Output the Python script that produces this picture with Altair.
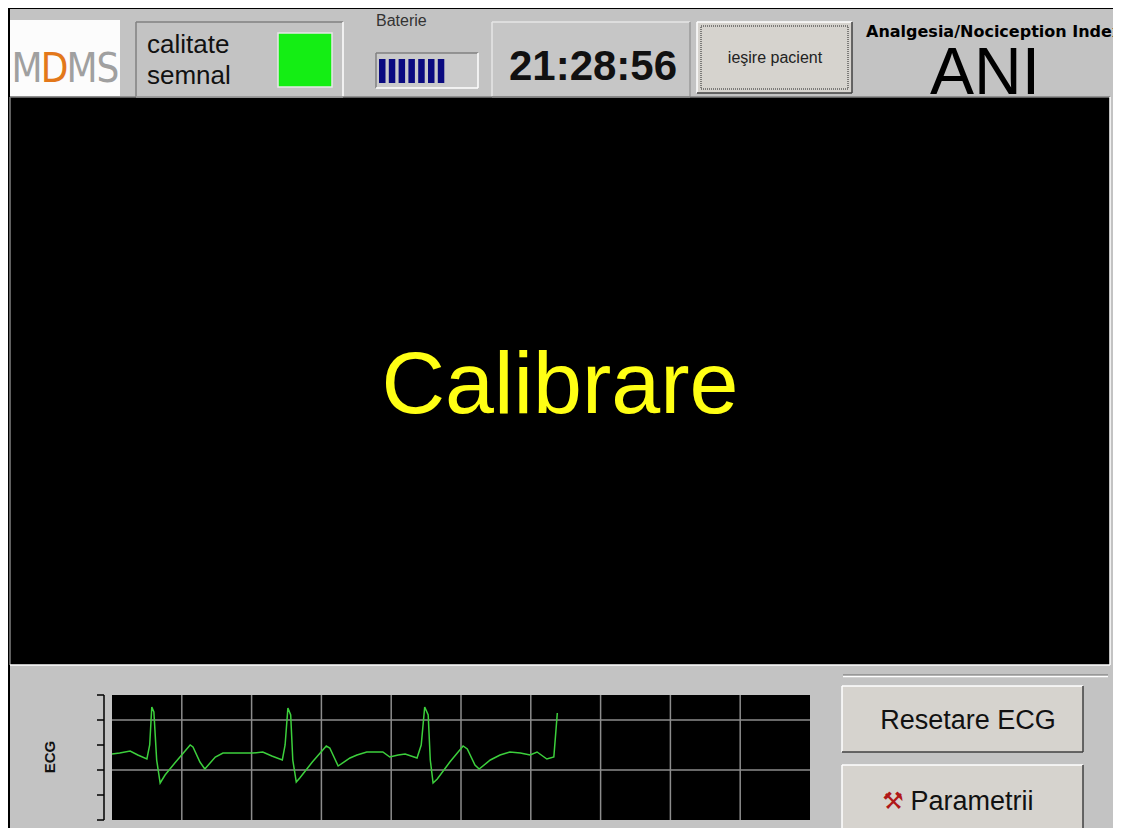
import altair as alt
import pandas as pd

# ---------------- data ----------------
# ECG trace: time in grid divisions (0..10), level in grid units (0..5)
ecg_time = [0.00, 0.11, 0.26, 0.37, 0.50, 0.54, 0.57, 0.60, 0.64, 0.69,
            0.76, 0.90, 1.12, 1.16, 1.26, 1.33, 1.48, 1.59, 2.02, 2.16,
            2.29, 2.44, 2.48, 2.52, 2.56, 2.59, 2.64, 2.69, 2.87, 3.07,
            3.12, 3.24, 3.41, 3.51, 3.65, 3.88, 3.98, 4.10, 4.20, 4.37,
            4.43, 4.48, 4.53, 4.56, 4.60, 4.66, 4.84, 5.03, 5.09, 5.20,
            5.26, 5.42, 5.56, 5.70, 5.85, 5.99, 6.09, 6.23, 6.33, 6.38]
ecg_level = [2.64, 2.68, 2.76, 2.60, 2.44, 3.00, 4.52, 4.32, 2.40, 1.48,
             1.80, 2.28, 3.00, 2.92, 2.32, 2.04, 2.52, 2.68, 2.68, 2.72,
             2.56, 2.40, 3.00, 4.48, 4.20, 2.40, 1.52, 1.68, 2.32, 2.96,
             2.88, 2.16, 2.48, 2.60, 2.72, 2.72, 2.52, 2.60, 2.64, 2.48,
             3.00, 4.52, 4.20, 2.40, 1.48, 1.64, 2.32, 2.96, 2.84, 2.20,
             2.04, 2.40, 2.60, 2.72, 2.68, 2.60, 2.72, 2.44, 2.52, 4.28]
assert len(ecg_time) == len(ecg_level)

ecg_time_domain = [0, 10]
ecg_level_domain = [0, 5]
ecg_grid_time = [1, 2, 3, 4, 5, 6, 7, 8, 9]
ecg_grid_level = [2, 4]
ecg_axis_ticks = [0, 1, 2, 3, 4, 5]

battery_bars = [1, 2, 3, 4, 5, 6, 7]

clock_text = "21:28:56"
status_text = "Calibrare"
logo_letters = ["M", "D", "M", "S"]

# ---------------- layout (screen pixels) ----------------
W, H = 1105, 820          # whole drawing (page margin 8 px)
OX, OY = 8, 8
PADL = 96                 # plot group starts where the ECG axis sits (screen x = 104)
GX = OX + PADL
UX = alt.Scale(domain=[GX, OX + W], nice=False, zero=False)
UY = alt.Scale(domain=[OY, OY + H], reverse=True, nice=False, zero=False)

BG = "#c3c3c3"
FACE = "#d6d3ce"

panels = pd.DataFrame([
    dict(x=9, x2=1140, y=8, y2=860, fill=BG, stroke="#000000", sw=2),
    dict(x=10, x2=120, y=20, y2=96, fill="#fcfcfc", stroke="#fcfcfc", sw=0),
    dict(x=136, x2=343, y=22, y2=97, fill=BG, stroke=BG, sw=0),
    dict(x=376, x2=478, y=53, y2=88, fill="#cacaca", stroke="#cacaca", sw=0),
    dict(x=492, x2=690, y=22, y2=97, fill="#c6c6c6", stroke="#c6c6c6", sw=0),
    dict(x=697, x2=852, y=22, y2=93, fill=FACE, stroke=FACE, sw=0),
    dict(x=10, x2=1110, y=97, y2=665, fill="#000000", stroke="#000000", sw=0),
    dict(x=842, x2=1083, y=686, y2=752, fill=FACE, stroke=FACE, sw=0),
    dict(x=842, x2=1083, y=765, y2=830, fill=FACE, stroke=FACE, sw=0),
    dict(x=278, x2=332, y=33, y2=87, fill="#14ee14", stroke="#e8e8e8", sw=1.5),
])

boxes3d = [
    (136, 22, 343, 97, "sunken"),
    (376, 53, 478, 88, "sunken"),
    (492, 22, 690, 97, "sunkenlight"),
    (697, 22, 852, 93, "raised"),
    (10, 97, 1110, 665, "sunken"),
    (842, 686, 1083, 752, "raised"),
    (842, 765, 1083, 830, "raised"),
]
styles = {
    "raised": ("#ffffff", "#404040"),
    "sunken": ("#808080", "#ffffff"),
    "sunkenlight": ("#e6e6e6", "#9a9a9a"),
}
edge_rows = []
for x0, y0, x1, y1, st in boxes3d:
    tl, br = styles[st]
    edge_rows += [
        dict(x=x0, x2=x1, y=y0, y2=y0, c=tl),
        dict(x=x0, x2=x0, y=y0, y2=y1, c=tl),
        dict(x=x0, x2=x1, y=y1, y2=y1, c=br),
        dict(x=x1, x2=x1, y=y0, y2=y1, c=br),
    ]
edge_rows += [
    dict(x=843, x2=1108, y=675, y2=675, c="#8a8a8a"),
    dict(x=843, x2=1108, y=676.5, y2=676.5, c="#ffffff"),
]
edges = pd.DataFrame(edge_rows)

focus = pd.DataFrame([dict(x=701, x2=848, y=26, y2=89)])

bat = pd.DataFrame({"bar": battery_bars})
bat["x"] = 379 + (bat["bar"] - 1) * 9.8
bat["x2"] = bat["x"] + 6.5
bat["y"] = 59
bat["y2"] = 83

texts_left = pd.DataFrame([
    dict(t="calitate", x=147, y=53, s=26, c="#111111"),
    dict(t="semnal", x=147, y=84, s=26, c="#111111"),
    dict(t="Baterie", x=376, y=26, s=16, c="#333333"),
])
texts_center = pd.DataFrame([
    dict(t="ieşire pacient", x=775, y=63, s=16, c="#222222"),
    dict(t="ANI", x=985, y=94, s=66, c="#000000"),
    dict(t=status_text, x=560, y=413, s=88, c="#ffff14"),
    dict(t="Resetare ECG", x=968, y=729, s=27, c="#111111"),
    dict(t="Parametrii", x=972, y=810, s=27, c="#111111"),
])
texts_clock = pd.DataFrame([dict(t=clock_text, x=593, y=80, s=42, c="#111111")])
texts_bold = pd.DataFrame([dict(t="Analgesia/Nociception Index", x=866, y=37, s=16, c="#000000")])
ecg_label = pd.DataFrame([dict(t="ECG", x=50, y=757, s=15, c="#111111")])
icon = pd.DataFrame([dict(t="⚒", x=893, y=809, s=24, c="#b01818")])
logo = pd.DataFrame({
    "t": logo_letters,
    "x": [27, 54.5, 82, 108],
    "y": [82, 82, 82, 82],
    "c": ["#a0a0a0", "#e3781a", "#a0a0a0", "#a0a0a0"],
})


def ux(f="x"):
    return alt.X(f"{f}:Q", scale=UX, axis=None)


def uy(f="y"):
    return alt.Y(f"{f}:Q", scale=UY, axis=None)


rects = alt.Chart(panels).mark_rect().encode(
    x=ux(), x2="x2:Q", y=uy(), y2="y2:Q",
    fill=alt.Fill("fill:N", scale=None),
    stroke=alt.Stroke("stroke:N", scale=None),
    strokeWidth=alt.StrokeWidth("sw:Q", scale=None),
)
edge_layer = alt.Chart(edges).mark_rule(strokeWidth=1.5).encode(
    x=ux(), x2="x2:Q", y=uy(), y2="y2:Q", color=alt.Color("c:N", scale=None)
)
focus_layer = alt.Chart(focus).mark_rect(
    filled=False, stroke="#222222", strokeDash=[1, 1], strokeWidth=1
).encode(x=ux(), x2="x2:Q", y=uy(), y2="y2:Q")
bat_layer = alt.Chart(bat).mark_rect(color="#0a0a80").encode(
    x=ux(), x2="x2:Q", y=uy(), y2="y2:Q"
)


def text_layer(df, align, font, weight="normal", angle=0, baseline="alphabetic"):
    return alt.Chart(df).mark_text(
        align=align, baseline=baseline, font=font, fontWeight=weight, angle=angle
    ).encode(
        x=ux(), y=uy(), text="t:N",
        size=alt.Size("s:Q", scale=None),
        color=alt.Color("c:N", scale=None),
    )


t_left = text_layer(texts_left, "left", "Liberation Sans")
t_center = text_layer(texts_center, "center", "Liberation Sans")
t_clock = text_layer(texts_clock, "center", "Liberation Sans", "bold")
t_bold = text_layer(texts_bold, "left", "DejaVu Sans", "bold")
t_ecg = text_layer(ecg_label, "center", "Liberation Sans", "bold", 270, "middle")
t_icon = text_layer(icon, "center", "DejaVu Sans")
t_logo = alt.Chart(logo).mark_text(
    align="center", baseline="alphabetic", font="DejaVu Sans Condensed",
    fontWeight=200, fontSize=40
).encode(x=ux(), y=uy(), text="t:N", color=alt.Color("c:N", scale=None))

ui = alt.layer(rects, edge_layer, focus_layer, bat_layer, t_logo, t_left, t_center,
               t_clock, t_bold, t_ecg, t_icon)

# ---------------- ECG strip with its own scales ----------------
EX = alt.Scale(domain=ecg_time_domain, range=[112 - GX, 810 - GX], nice=False, zero=False)
EY = alt.Scale(domain=ecg_level_domain, range=[820 - OY, 695 - OY], nice=False, zero=False)
one = pd.DataFrame({"k": [0]})

ecg_bg = alt.Chart(one).mark_rect(color="#000000").encode(
    x=alt.X(datum=ecg_time_domain[0], scale=EX, axis=None),
    x2=alt.X2(datum=ecg_time_domain[1]),
    y=alt.Y(datum=ecg_level_domain[0], scale=EY, axis=None),
    y2=alt.Y2(datum=ecg_level_domain[1]),
)
vgrid = alt.Chart(pd.DataFrame({"t": ecg_grid_time})).mark_rule(
    color="#8c8c8c", strokeWidth=1.5
).encode(
    x=alt.X("t:Q", scale=EX, axis=None),
    y=alt.Y(datum=ecg_level_domain[0], scale=EY, axis=None),
    y2=alt.Y2(datum=ecg_level_domain[1]),
)
hgrid = alt.Chart(pd.DataFrame({"v": ecg_grid_level})).mark_rule(
    color="#8c8c8c", strokeWidth=1.5
).encode(
    y=alt.Y("v:Q", scale=EY, axis=None),
    x=alt.X(datum=ecg_time_domain[0], scale=EX, axis=None),
    x2=alt.X2(datum=ecg_time_domain[1]),
)
# left axis of the strip: spine at the group's left edge, ticks pointing left
axis_spine = alt.Chart(one).mark_rule(color="#000000", strokeWidth=1.5).encode(
    x=alt.value(0),
    y=alt.Y(datum=ecg_level_domain[0], scale=EY, axis=None),
    y2=alt.Y2(datum=ecg_level_domain[1]),
)
axis_ticks = alt.Chart(pd.DataFrame({"v": ecg_axis_ticks})).mark_rule(
    color="#000000", strokeWidth=1.5
).encode(
    x=alt.value(-7), x2=alt.value(0),
    y=alt.Y("v:Q", scale=EY, axis=None),
)
ecg_df = pd.DataFrame({"t": ecg_time, "v": ecg_level, "i": range(len(ecg_time))})
trace = alt.Chart(ecg_df).mark_line(color="#3ccf3c", strokeWidth=1.5).encode(
    x=alt.X("t:Q", scale=EX, axis=None),
    y=alt.Y("v:Q", scale=EY, axis=None),
    order="i:Q",
)
ecg = alt.layer(ecg_bg, vgrid, hgrid, axis_spine, axis_ticks, trace)

chart = alt.layer(ui, ecg).resolve_scale(x="independent", y="independent").properties(
    width=W - PADL, height=H,
    padding={"left": PADL, "top": 0, "right": 0, "bottom": 0},
    autosize=alt.AutoSizeParams(type="none"),
    background="#ffffff",
).configure_view(stroke=None)

chart.save("out.html", embed_options={"renderer": "svg", "actions": False})
